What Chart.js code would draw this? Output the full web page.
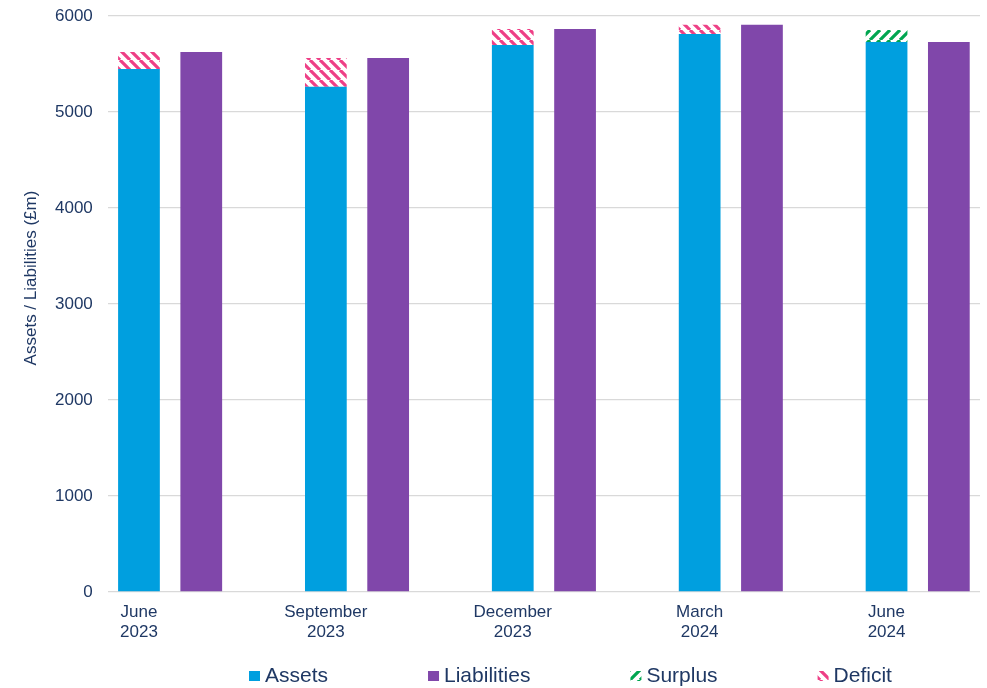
<!DOCTYPE html>
<html>
<head>
<meta charset="utf-8">
<title>Assets and liabilities</title>
<script src="https://cdn.jsdelivr.net/npm/chart.js@4.4.1/dist/chart.umd.min.js"></script>
<style>
  html, body { margin: 0; padding: 0; background: #ffffff; }
  #wrap { width: 987px; height: 688px; position: relative; }
</style>
</head>
<body>
<div id="wrap"><canvas id="chart"></canvas></div>
<script>
// quarter end dates (two-line tick labels)
var periods = [['June', '2023'], ['September', '2023'], ['December', '2023'], ['March', '2024'], ['June', '2024']];
// £m
var assets = [5446, 5261, 5696, 5811, 5853];
var liabilities = [5623, 5561, 5862, 5907, 5728];
var yTicks = [0, 1000, 2000, 3000, 4000, 5000, 6000];
var axisTitle = 'Assets / Liabilities (£m)';

var textColor = '#1F3864';
var fontFamily = '"Liberation Sans", Arial, sans-serif';

// diagonal hatch fill, "\" for deficit and "/" for surplus
function stripes(color, forward) {
    var size = 10;
    var c = document.createElement('canvas');
    c.width = size;
    c.height = size;
    var ctx = c.getContext('2d');
    ctx.fillStyle = '#ffffff';
    ctx.fillRect(0, 0, size, size);
    ctx.strokeStyle = color;
    ctx.lineWidth = 3.2;
    ctx.beginPath();
    for (var k = -1; k <= 1; k++) {
        if (forward) {
            ctx.moveTo(k * size, size);
            ctx.lineTo(k * size + size, 0);
        } else {
            ctx.moveTo(k * size, 0);
            ctx.lineTo(k * size + size, size);
        }
    }
    ctx.stroke();
    return ctx.createPattern(c, 'repeat');
}

// each period gets three slots: assets bar, liabilities bar, gap
var slotCount = periods.length * 3 - 1;
var labels = [];
var blueData = [], liabData = [], surplusData = [], deficitData = [];
for (var s = 0; s < slotCount; s++) {
    labels.push(s % 3 == 0 ? periods[s / 3] : '');
    blueData.push(null);
    liabData.push(null);
    surplusData.push(null);
    deficitData.push(null);
}
periods.forEach(function(p, i) {
    var a = assets[i], l = liabilities[i];
    blueData[i * 3] = Math.min(a, l);
    surplusData[i * 3] = a > l ? a - l : null;
    deficitData[i * 3] = l > a ? l - a : null;
    liabData[i * 3 + 1] = l;
});

var legendLeft = 249;
var legendGap = 100;

// legend row with wider spacing than the built-in one allows
var spacedLegend = {
    id: 'spacedLegend',
    afterDraw: function(chart) {
        var ctx = chart.ctx;
        var items = chart.data.datasets;
        var box = 11, boxH = 10, textGap = 5;
        ctx.save();
        ctx.font = '21px ' + fontFamily;
        var x = legendLeft;
        var y = 676;
        items.forEach(function(d) {
            ctx.fillStyle = d.backgroundColor;
            ctx.fillRect(x, y - boxH / 2, box, boxH);
            ctx.fillStyle = textColor;
            ctx.textBaseline = 'middle';
            ctx.textAlign = 'left';
            ctx.fillText(d.label, x + box + textGap, y);
            x += box + textGap + ctx.measureText(d.label).width + legendGap;
        });
        ctx.restore();
    }
};

// y-axis title
var yTitle = {
    id: 'yTitle',
    afterDraw: function(chart) {
        var ctx = chart.ctx;
        ctx.save();
        ctx.translate(31, 278);
        ctx.rotate(-Math.PI / 2);
        ctx.font = '17px ' + fontFamily;
        ctx.fillStyle = textColor;
        ctx.textAlign = 'center';
        ctx.textBaseline = 'middle';
        ctx.fillText(axisTitle, 0, 0);
        ctx.restore();
    }
};

new Chart(document.getElementById('chart'), {
    type: 'bar',
    data: {
        labels: labels,
        datasets: [
            { label: 'Assets', data: blueData, backgroundColor: '#009FDF' },
            { label: 'Liabilities', data: liabData, backgroundColor: '#8047AA' },
            { label: 'Surplus', data: surplusData, backgroundColor: stripes('#00A650', true) },
            { label: 'Deficit', data: deficitData, backgroundColor: stripes('#EE3F86', false) }
        ]
    },
    options: {
        responsive: true,
        maintainAspectRatio: false,
        animation: false,
        layout: { padding: { left: 40, right: 7, top: 0, bottom: 36 } },
        datasets: {
            bar: { barPercentage: 0.67, categoryPercentage: 1, borderWidth: 0 }
        },
        plugins: {
            legend: { display: false },
            tooltip: { enabled: false }
        },
        scales: {
            x: {
                stacked: true,
                grid: { display: false, drawTicks: false },
                border: { display: false },
                ticks: {
                    autoSkip: false,
                    maxRotation: 0,
                    padding: 10,
                    color: textColor,
                    font: { family: fontFamily, size: 17, lineHeight: 1.18 }
                }
            },
            y: {
                stacked: true,
                min: yTicks[0],
                max: yTicks[yTicks.length - 1],
                afterBuildTicks: function(axis) {
                    axis.ticks = yTicks.map(function(v) { return { value: v }; });
                },
                grid: { color: '#D9D9D9', lineWidth: 1.3, drawTicks: false },
                border: { display: false },
                ticks: {
                    padding: 15,
                    color: textColor,
                    // single-line labels, kept short so the top gridline sits near the edge
                    font: { family: fontFamily, size: 17, lineHeight: 0.1 },
                    callback: function(v) { return String(v); }
                }
            }
        }
    },
    plugins: [spacedLegend, yTitle]
});
</script>
</body>
</html>
